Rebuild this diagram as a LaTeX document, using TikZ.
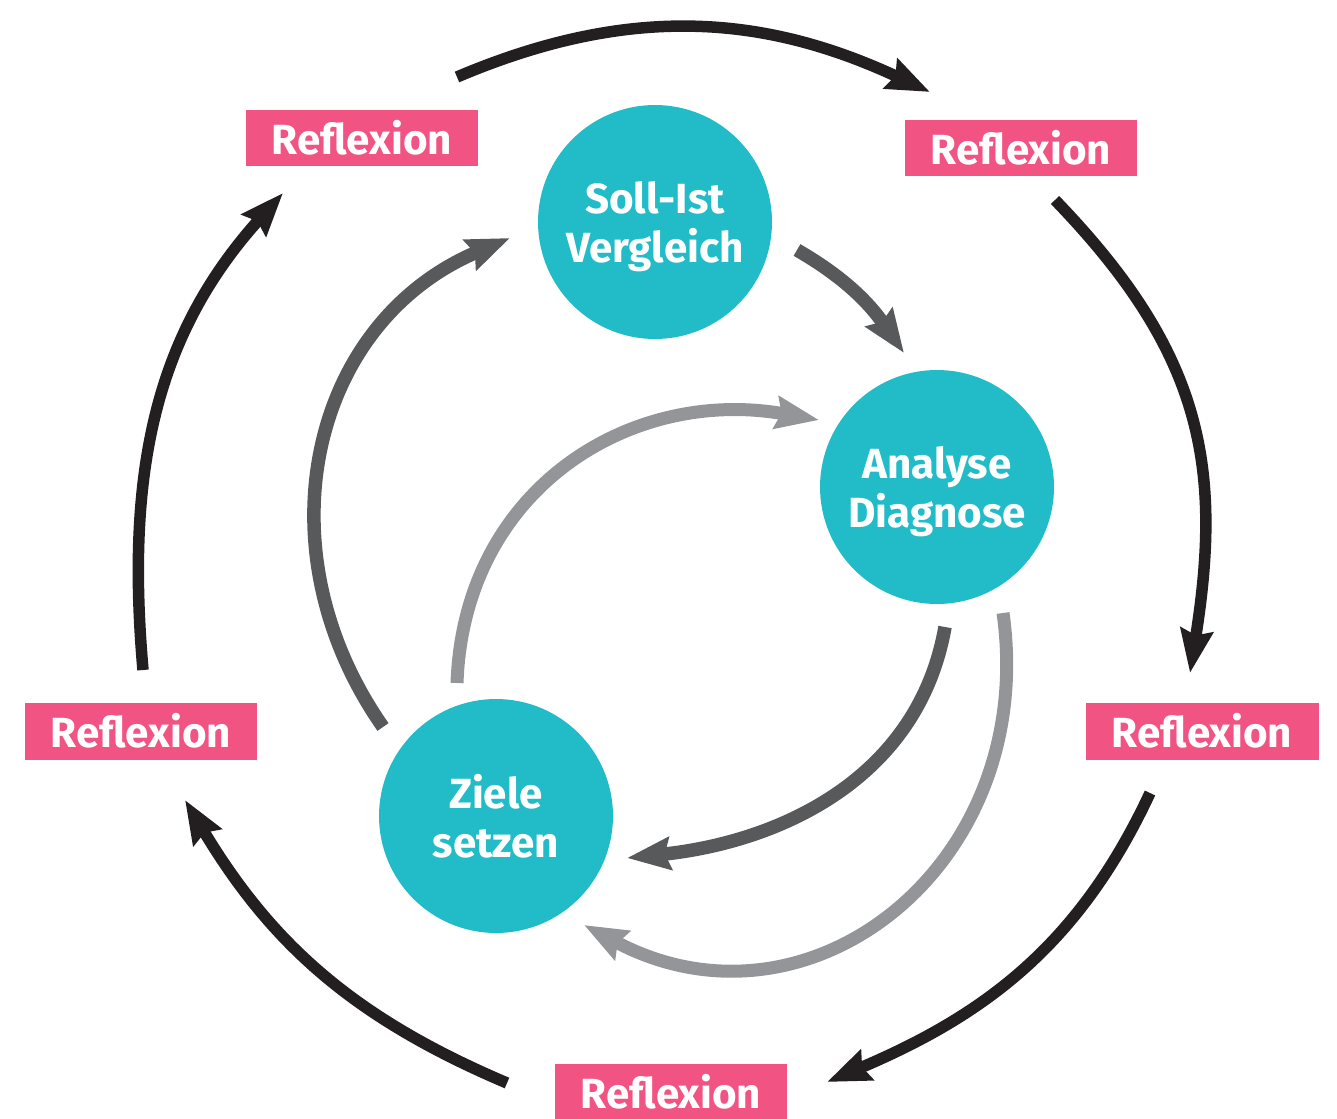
\documentclass[tikz,border=0pt]{standalone}
\usepackage{fontspec}
\setmainfont{Fira Sans}
\usetikzlibrary{arrows.meta}
\definecolor{pinkbox}{HTML}{F15383}
\definecolor{tealc}{HTML}{22BCC8}
\definecolor{blackarr}{HTML}{231F20}
\definecolor{darkarr}{HTML}{58595B}
\definecolor{lightarr}{HTML}{939598}
\begin{document}
\begin{tikzpicture}[x=0.02cm,y=0.02cm,
  refl/.style={fill=pinkbox, text=white, font=\bfseries\fontsize{24}{28}\selectfont,
    minimum width=4.66cm, minimum height=1.14cm, inner sep=0pt},
  stage/.style={circle, fill=tealc, text=white, font=\bfseries\fontsize{24}{28}\selectfont,
    minimum size=4.68cm, align=center, inner sep=0pt, text depth=0pt},
  tipA/.style={-{Stealth[length=0.86cm,width=0.64cm,inset=0.1cm]}},
  blk/.style={line width=0.23cm, color=blackarr, tipA},
  drk/.style={line width=0.27cm, color=darkarr, tipA},
  lgt/.style={line width=0.26cm, color=lightarr, tipA}
]
\useasboundingbox (0,0) rectangle (1337,-1118);

% boxes
\node[refl] (rTL) at (362,-138) {Reflexion};
\node[refl] (rTR) at (1021,-148) {Reflexion};
\node[refl] (rR) at (1202,-731) {Reflexion};
\node[refl] (rL) at (141,-731) {Reflexion};
\node[refl] (rB) at (671,-1092) {Reflexion};

% circles
\node[stage] (S) at (655,-222) {Soll-Ist\\Vergleich};
\node[stage] (A) at (937,-487) {Analyse\\Diagnose};
\node[stage] (Z) at (496,-816) {Ziele\\setzen};

% coordinates
\coordinate (o1s) at (457,-77);   \coordinate (o1e) at (930,-92);
\coordinate (o2s) at (1055,-200); \coordinate (o2e) at (1190,-673);
\coordinate (o3s) at (1150,-793); \coordinate (o3e) at (827,-1082);
\coordinate (o4s) at (507,-1083); \coordinate (o4e) at (185,-800);
\coordinate (o5s) at (143,-670);  \coordinate (o5e) at (283,-193);

\coordinate (a1s) at (797,-250);  \coordinate (a1e) at (904,-353);
\coordinate (b1s) at (383,-727);  \coordinate (b1e) at (510,-238);
\coordinate (c1s) at (945,-627);  \coordinate (c1e) at (627,-858);
\coordinate (d1s) at (457,-683);  \coordinate (d1e) at (819,-420);
\coordinate (e1s) at (1003,-613); \coordinate (e1e) at (584,-925);

% outer arrows
\draw[blk] (o1s) to[out=23,in=155] (o1e);
\draw[blk] (o2s) to[out=-46,in=81,looseness=1.1] (o2e);
\draw[blk] (o3s) to[out=-115,in=23] (o3e);
\draw[blk] (o4s) to[out=157,in=-59] (o4e);
\draw[blk] (o5s) to[out=95,in=-132] (o5e);

% inner dark arrows
\draw[drk] (a1s) to[out=-30,in=125] (a1e);
\draw[drk] (b1s) to[out=125,in=-157,looseness=1.1] (b1e);
\draw[drk] (c1s) to[out=-100,in=6] (c1e);

% inner light arrows
\draw[lgt] (d1s) to[out=88,in=170,looseness=1.1] (d1e);
\draw[lgt] (e1s) to[out=-82,in=-28,looseness=1.25] (e1e);
\end{tikzpicture}
\end{document}
